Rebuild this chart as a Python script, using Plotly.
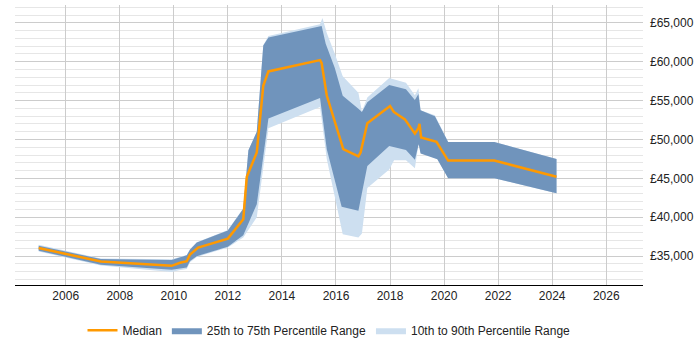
import plotly.graph_objects as go

# ---- data ----
median_x = [2005.0, 2007.3, 2009.92, 2010.23, 2010.48, 2010.6, 2010.9, 2012.0, 2012.57, 2012.7,
            2013.07, 2013.31, 2013.5, 2015.41, 2015.47, 2015.66, 2016.27, 2016.83, 2016.91, 2017.16,
            2018.0, 2018.14, 2018.55, 2018.92, 2019.05, 2019.09, 2019.15, 2019.72, 2020.15, 2021.86, 2024.16]
median_y = [36040, 34300, 33750, 34150, 34350, 35200, 36100, 37250, 39750, 45200,
            48330, 56900, 58750, 60200, 59800, 55650, 48750, 47830, 48330, 52080,
            54290, 53540, 52580, 50750, 51450, 52000, 50250, 49700, 47290, 47290, 45200]

p75_x = [2005.0, 2007.3, 2009.92, 2010.2, 2010.48, 2010.6, 2010.85, 2012.0, 2012.57, 2012.76,
         2013.07, 2013.31, 2013.5, 2015.47, 2015.62, 2015.96, 2016.25, 2016.83, 2016.96, 2017.16,
         2017.97, 2018.59, 2018.92, 2019.05, 2019.13, 2019.66, 2020.15, 2021.86, 2024.16]
p75_y = [36350, 34620, 34500, 34850, 35100, 35850, 36750, 38300, 41100, 48600,
         51000, 62080, 63120, 64580, 62300, 59160, 55630, 53950, 53540, 54790,
         57000, 56450, 55080, 55830, 53750, 53000, 49660, 49660, 47500]

p25_x = [2005.0, 2007.3, 2009.92, 2010.2, 2010.48, 2010.6, 2010.85, 2012.0, 2012.57, 2013.07,
         2013.5, 2015.41, 2015.66, 2016.21, 2016.83, 2017.16, 2017.97, 2018.59, 2018.92, 2019.06,
         2019.13, 2019.75, 2020.15, 2021.86, 2024.16]
p25_y = [35700, 33880, 33250, 33400, 33540, 34380, 35000, 36200, 37700, 41670,
         52700, 55330, 48750, 41350, 40830, 46600, 49160, 48650, 47400, 49400,
         48200, 47450, 45000, 45000, 43100]

p90_x = [2005.0, 2007.3, 2009.92, 2010.2, 2010.48, 2010.6, 2010.85, 2012.0, 2012.57, 2012.76,
         2013.07, 2013.31, 2013.5, 2015.41, 2015.5, 2015.66, 2015.96, 2016.25, 2016.83, 2016.96,
         2017.16, 2017.97, 2018.59, 2018.92, 2019.05, 2019.13, 2019.66, 2020.15, 2021.86, 2024.16]
p90_y = [36450, 34700, 34600, 34900, 35150, 35900, 36800, 38350, 41150, 48600,
         51000, 62100, 63300, 64800, 65620, 63700, 61000, 58120, 56000, 53600,
         55410, 57900, 57290, 55700, 56580, 53750, 53125, 49660, 49660, 47500]

p10_x = [2005.0, 2007.3, 2009.92, 2010.2, 2010.48, 2010.6, 2010.85, 2012.0, 2012.57, 2013.07,
         2013.5, 2015.41, 2015.66, 2016.25, 2016.83, 2016.96, 2017.16, 2017.97, 2018.15, 2018.59,
         2018.92, 2019.07, 2019.13, 2019.75, 2020.15, 2021.86, 2024.16]
p10_y = [35600, 33800, 32950, 33200, 33330, 34200, 34900, 36100, 37400, 40000,
         51450, 54160, 47500, 37800, 37400, 37900, 43750, 46150, 47330, 47330,
         46300, 49800, 48330, 47500, 45000, 45000, 43100]

x_ticks = [2006, 2008, 2010, 2012, 2014, 2016, 2018, 2020, 2022, 2024, 2026]

DARK = "#7094bc"
LIGHT = "#cddff0"
ORANGE = "#ff9900"
FONT = "Liberation Sans, Arial, sans-serif"

fig = go.Figure()

fig.add_trace(go.Scatter(
    x=p90_x + p10_x[::-1], y=p90_y + p10_y[::-1],
    fill="toself", fillcolor=LIGHT, line=dict(width=0), mode="lines",
    name="10th to 90th Percentile Range", legendrank=3, hoverinfo="skip"))
fig.add_trace(go.Scatter(
    x=p75_x + p25_x[::-1], y=p75_y + p25_y[::-1],
    fill="toself", fillcolor=DARK, line=dict(width=0), mode="lines",
    name="25th to 75th Percentile Range", legendrank=2, hoverinfo="skip"))
fig.add_trace(go.Scatter(
    x=median_x, y=median_y, mode="lines",
    line=dict(color=ORANGE, width=2.5), name="Median", legendrank=1))

fig.update_layout(
    width=700, height=350,
    margin=dict(l=15, r=57, t=5, b=57),
    paper_bgcolor="white", plot_bgcolor="white",
    font=dict(family=FONT, size=12, color="#222"),
    showlegend=True,
    legend=dict(orientation="h", x=0.5, xanchor="center", y=-0.11, yanchor="top",
                font=dict(size=12, color="#222"), itemwidth=30, traceorder="normal"),
)
fig.update_xaxes(
    range=[2004.124, 2027.36], tickvals=x_ticks, ticktext=[str(t) for t in x_ticks],
    showgrid=True, gridcolor="#cccccc", gridwidth=1,
    showline=True, linecolor="#000", linewidth=1, zeroline=False, ticks="",
)
fig.update_yaxes(
    range=[31288, 67288], side="right", dtick=5000, tick0=35000,
    tickprefix="£", tickformat=",d",
    showgrid=True, gridcolor="#cccccc", gridwidth=1,
    minor=dict(dtick=1000, showgrid=True, gridcolor="#e6e6e6", gridwidth=1),
    showline=False, zeroline=False, ticks="", ticklabelstandoff=6,
)

fig.write_html("out.html")
